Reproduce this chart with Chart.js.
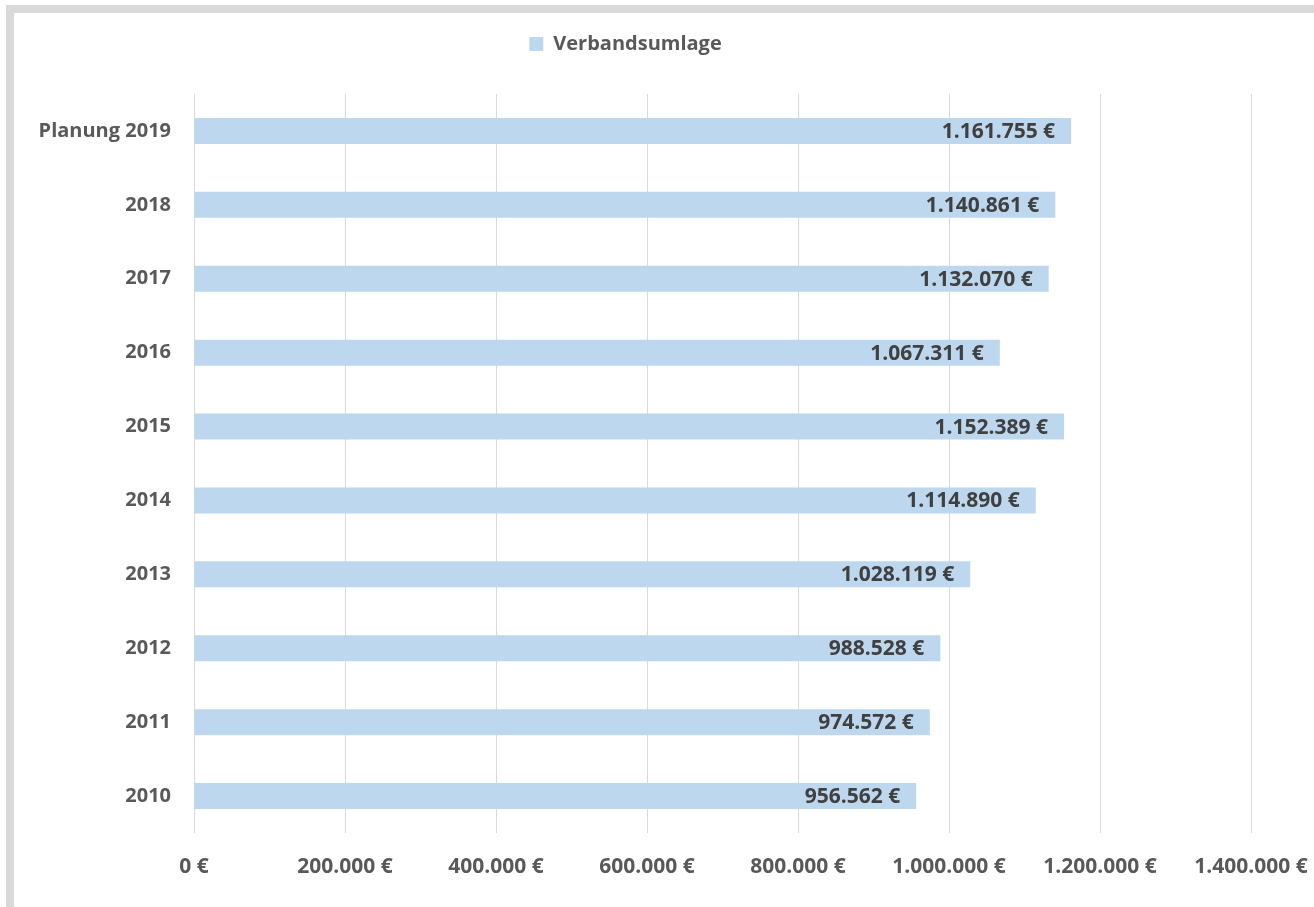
<!DOCTYPE html>
<html>
<head>
<meta charset="utf-8">
<script src="https://cdn.jsdelivr.net/npm/chart.js@4"></script>
<style>
  html, body { margin: 0; padding: 0; background: #fff; overflow: hidden; }
  #rahmen {
    position: absolute; left: 6px; top: 5px; width: 1320px; height: 920px;
    border-left: 8px solid #d9d9d9; border-top: 8px solid #d9d9d9;
  }
  #wrap { position: absolute; left: 0; top: 0; width: 1314px; height: 907px; }
</style>
</head>
<body>
<div id="rahmen"></div>
<div id="wrap"><canvas id="grafik" width="1314" height="907"></canvas></div>
<script>
// Jahre (oben nach unten)
const jahre = ['Planung 2019', '2018', '2017', '2016', '2015', '2014', '2013', '2012', '2011', '2010'];

// Verbandsumlage in Euro
const umlage = [1161755, 1140861, 1132070, 1067311, 1152389, 1114890, 1028119, 988528, 974572, 956562];

// Achse
const achseMax = 1400000;
const achseSchritt = 200000;

const schrift = "'Open Sans', 'Liberation Sans', sans-serif";

function euro(v) {
  return String(Math.round(v)).replace(/\B(?=(\d{3})+(?!\d))/g, '.') + ' €';
}

// Werte am Balkenende
const werteLabels = {
  id: 'werteLabels',
  afterDatasetsDraw(chart) {
    const ctx = chart.ctx;
    const meta = chart.getDatasetMeta(0);
    ctx.save();
    ctx.font = 'bold 21px ' + schrift;
    ctx.fillStyle = '#404040';
    ctx.textAlign = 'right';
    ctx.textBaseline = 'middle';
    meta.data.forEach(function(bar, i) {
      ctx.fillText(euro(umlage[i]), bar.x - 16, bar.y + 1);
    });
    ctx.restore();
  }
};

const ctx = document.getElementById('grafik').getContext('2d');

new Chart(ctx, {
  type: 'bar',
  data: {
    labels: jahre,
    datasets: [{
      label: 'Verbandsumlage',
      data: umlage,
      backgroundColor: '#bdd7ee',
      borderWidth: 0,
      categoryPercentage: 1,
      barPercentage: 0.352
    }]
  },
  options: {
    indexAxis: 'y',
    responsive: false,
    animation: false,
    devicePixelRatio: 1,
    layout: { padding: { left: 0, right: 63, top: 14, bottom: 0 } },
    plugins: {
      tooltip: { enabled: false },
      legend: {
        position: 'top',
        labels: {
          boxWidth: 14,
          boxHeight: 14,
          padding: 20,
          color: '#595959',
          font: { family: schrift, size: 20, weight: 'bold' }
        }
      }
    },
    scales: {
      x: {
        min: 0,
        max: achseMax,
        ticks: {
          stepSize: achseSchritt,
          color: '#595959',
          padding: 21,
          maxRotation: 0,
          font: { family: schrift, size: 21, weight: 'bold' },
          callback: function(v) { return euro(v); }
        },
        grid: { color: '#d9d9d9', lineWidth: 1, drawTicks: false },
        border: { display: false },
        afterFit: function(s) { s.height = 74; s.paddingLeft = 0; s.paddingRight = 0; }
      },
      // Abstand zwischen Legende und Diagramm
      abstand: {
        type: 'linear',
        position: 'top',
        ticks: { display: false },
        grid: { display: false, drawTicks: false },
        border: { display: false },
        afterFit: function(s) { s.height = 30; s.paddingLeft = 0; s.paddingRight = 0; }
      },
      y: {
        ticks: {
          color: '#595959',
          padding: 23,
          font: { family: schrift, size: 20, weight: 'bold' }
        },
        grid: { display: false, drawTicks: false },
        border: { display: false },
        afterFit: function(s) { s.width = 194; }
      }
    }
  },
  plugins: [werteLabels]
});
</script>
</body>
</html>
